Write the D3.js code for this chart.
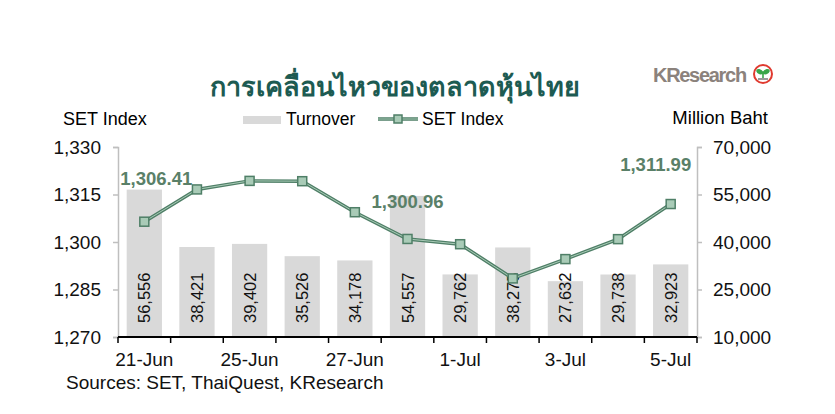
<!DOCTYPE html>
<html>
<head>
<meta charset="utf-8">
<script src="https://cdn.jsdelivr.net/npm/d3@7"></script>
<style>
  body { margin: 0; background: #fff; }
  svg text { font-family: "Liberation Sans", Arial, sans-serif; }
</style>
</head>
<body>
<svg id="chart" width="835" height="414"></svg>
<script>
// data
const days = ["21-Jun", "24-Jun", "25-Jun", "26-Jun", "27-Jun", "28-Jun", "1-Jul", "2-Jul", "3-Jul", "4-Jul", "5-Jul"];
const turnover = [56556, 38421, 39402, 35526, 34178, 54557, 29762, 38275, 27632, 29738, 32923];
const setIndex = [1306.41, 1316.6, 1319.3, 1319.2, 1309.4, 1300.96, 1299.3, 1288.5, 1294.6, 1300.9, 1311.99];
const shownDays = ["21-Jun", "25-Jun", "27-Jun", "1-Jul", "3-Jul", "5-Jul"];
const leftTicks = [1270, 1285, 1300, 1315, 1330];
const rightTicks = [10000, 25000, 40000, 55000, 70000];
const calloutIdx = [0, 5, 10];

const svg = d3.select("#chart");
const margin = { top: 147, left: 118, right: 138, bottom: 77 };
const width = 835, height = 414;
const innerW = width - margin.left - margin.right;
const innerH = height - margin.top - margin.bottom;

const x = d3.scaleBand().domain(days).range([0, innerW]).paddingInner(0.33).paddingOuter(0.165);
const xEdge = d3.scaleLinear().domain([0, days.length]).range([0, innerW]);
const yL = d3.scaleLinear().domain([1270, 1330]).range([innerH, 0]);
const yR = d3.scaleLinear().domain([10000, 70000]).range([innerH, 0]);

const fmt = d3.format(",");
const dark = "#4f7f67", light = "#a9cbb7";

// title + logo
svg.append("text")
  .attr("x", 395).attr("y", 96)
  .attr("text-anchor", "middle")
  .attr("font-size", 27).attr("font-weight", "bold")
  .attr("fill", "#1d5b52")
  .style("font-family", "'Noto Sans', 'DejaVu Sans', sans-serif")
  .text("การเคลื่อนไหวของตลาดหุ้นไทย");

svg.append("text")
  .attr("x", 653).attr("y", 82)
  .attr("font-size", 20).attr("font-weight", "bold")
  .attr("fill", "#8b827c").attr("letter-spacing", -1.3)
  .text("KResearch");
const logo = svg.append("g").attr("transform", "translate(763,74)");
logo.append("circle").attr("r", 9).attr("fill", "#fff").attr("stroke", "#e03a2f").attr("stroke-width", 2);
logo.append("path").attr("d", "M0,5 L0,-1 M0,-1 C-2,-5 -6,-5 -6,-3 C-5,0 -2,0 0,-1 M0,-1 C2,-5 6,-5 6,-3 C5,0 2,0 0,-1")
  .attr("fill", "#3aa64a").attr("stroke", "#3aa64a").attr("stroke-width", 1.6);
logo.append("rect").attr("x", -5).attr("y", 4).attr("width", 10).attr("height", 2).attr("fill", "#9a9a9a");

// axis titles + legend
svg.append("text").attr("x", 63).attr("y", 125).attr("font-size", 18).text("SET Index");
svg.append("text").attr("x", 768).attr("y", 124).attr("text-anchor", "end").attr("font-size", 18.5).text("Million Baht");

svg.append("rect").attr("x", 243).attr("y", 116).attr("width", 38).attr("height", 8).attr("fill", "#d9d9d9");
svg.append("text").attr("x", 286).attr("y", 125).attr("font-size", 17.5).text("Turnover");
svg.append("line").attr("x1", 378).attr("x2", 418).attr("y1", 119).attr("y2", 119).attr("stroke", dark).attr("stroke-width", 3.5);
svg.append("line").attr("x1", 378).attr("x2", 418).attr("y1", 119).attr("y2", 119).attr("stroke", light).attr("stroke-width", 1);
svg.append("rect").attr("x", 394).attr("y", 115).attr("width", 8).attr("height", 8).attr("fill", light).attr("stroke", dark).attr("stroke-width", 1.5);
svg.append("text").attr("x", 422).attr("y", 125).attr("font-size", 17.5).text("SET Index");

const g = svg.append("g").attr("transform", `translate(${margin.left},${margin.top})`);

// bars
g.selectAll(".bar").data(days).join("rect")
  .attr("class", "bar")
  .attr("x", d => x(d))
  .attr("width", x.bandwidth())
  .attr("y", (d, i) => yR(turnover[i]))
  .attr("height", (d, i) => innerH - yR(turnover[i]))
  .attr("fill", "#d9d9d9");

g.selectAll(".barlabel").data(days).join("text")
  .attr("class", "barlabel")
  .attr("transform", d => `translate(${x(d) + x.bandwidth() / 2 + 6},${innerH - 14})rotate(-90)`)
  .attr("font-size", 16.5)
  .attr("fill", "#111")
  .text((d, i) => fmt(turnover[i]));

// left axis
const axL = g.append("g").call(d3.axisLeft(yL).tickValues(leftTicks).tickFormat(fmt).tickSize(5).tickPadding(12));
axL.select(".domain").attr("stroke", "#bfbfbf").attr("stroke-width", 1.5);
axL.selectAll(".tick line").attr("stroke", "#bfbfbf").attr("stroke-width", 1.5);
axL.selectAll("text").attr("font-size", 19).attr("fill", "#111").style("font-family", "'Liberation Sans', Arial, sans-serif");

// right axis
const axR = g.append("g").attr("transform", `translate(${innerW},0)`)
  .call(d3.axisRight(yR).tickValues(rightTicks).tickFormat(fmt).tickSize(5).tickPadding(11));
axR.select(".domain").attr("stroke", "#bfbfbf").attr("stroke-width", 1.5);
axR.selectAll(".tick line").attr("stroke", "#bfbfbf").attr("stroke-width", 1.5);
axR.selectAll("text").attr("font-size", 19).attr("fill", "#111").style("font-family", "'Liberation Sans', Arial, sans-serif");

// bottom axis: baseline, ticks at category edges, every other label
const axB = g.append("g").attr("transform", `translate(0,${innerH})`);
axB.append("line").attr("x1", 0).attr("x2", innerW).attr("stroke", "#000").attr("stroke-width", 2);
axB.selectAll(".edge").data(d3.range(days.length + 1)).join("line")
  .attr("class", "edge")
  .attr("x1", d => xEdge(d)).attr("x2", d => xEdge(d))
  .attr("y1", 0).attr("y2", 6)
  .attr("stroke", "#000").attr("stroke-width", 1.5);
axB.selectAll(".xlabel").data(shownDays).join("text")
  .attr("class", "xlabel")
  .attr("x", d => x(d) + x.bandwidth() / 2)
  .attr("y", 29)
  .attr("text-anchor", "middle")
  .attr("font-size", 19)
  .attr("fill", "#111")
  .text(d => d);

// SET index line (double stroke)
const line = d3.line()
  .x((d, i) => x(days[i]) + x.bandwidth() / 2)
  .y(d => yL(d));
g.append("path").datum(setIndex).attr("d", line).attr("fill", "none").attr("stroke", dark).attr("stroke-width", 3.5);
g.append("path").datum(setIndex).attr("d", line).attr("fill", "none").attr("stroke", light).attr("stroke-width", 1);

g.selectAll(".marker").data(setIndex).join("rect")
  .attr("class", "marker")
  .attr("x", (d, i) => x(days[i]) + x.bandwidth() / 2 - 4.5)
  .attr("y", d => yL(d) - 4.5)
  .attr("width", 9).attr("height", 9)
  .attr("fill", light)
  .attr("stroke", dark)
  .attr("stroke-width", 1.5);

// callouts
const callDx = { 0: 12, 5: 0, 10: -15 };
const callDy = { 0: -37, 5: -31, 10: -33 };
g.selectAll(".callout").data(calloutIdx).join("text")
  .attr("class", "callout")
  .attr("x", i => x(days[i]) + x.bandwidth() / 2 + callDx[i])
  .attr("y", i => yL(setIndex[i]) + callDy[i])
  .attr("text-anchor", "middle")
  .attr("font-size", 18.5).attr("font-weight", "bold")
  .attr("fill", "#5a8068")
  .text(i => d3.format(",.2f")(setIndex[i]));

svg.append("text").attr("x", 66).attr("y", 389).attr("font-size", 19).attr("fill", "#111")
  .text("Sources: SET, ThaiQuest, KResearch");
</script>
</body>
</html>
